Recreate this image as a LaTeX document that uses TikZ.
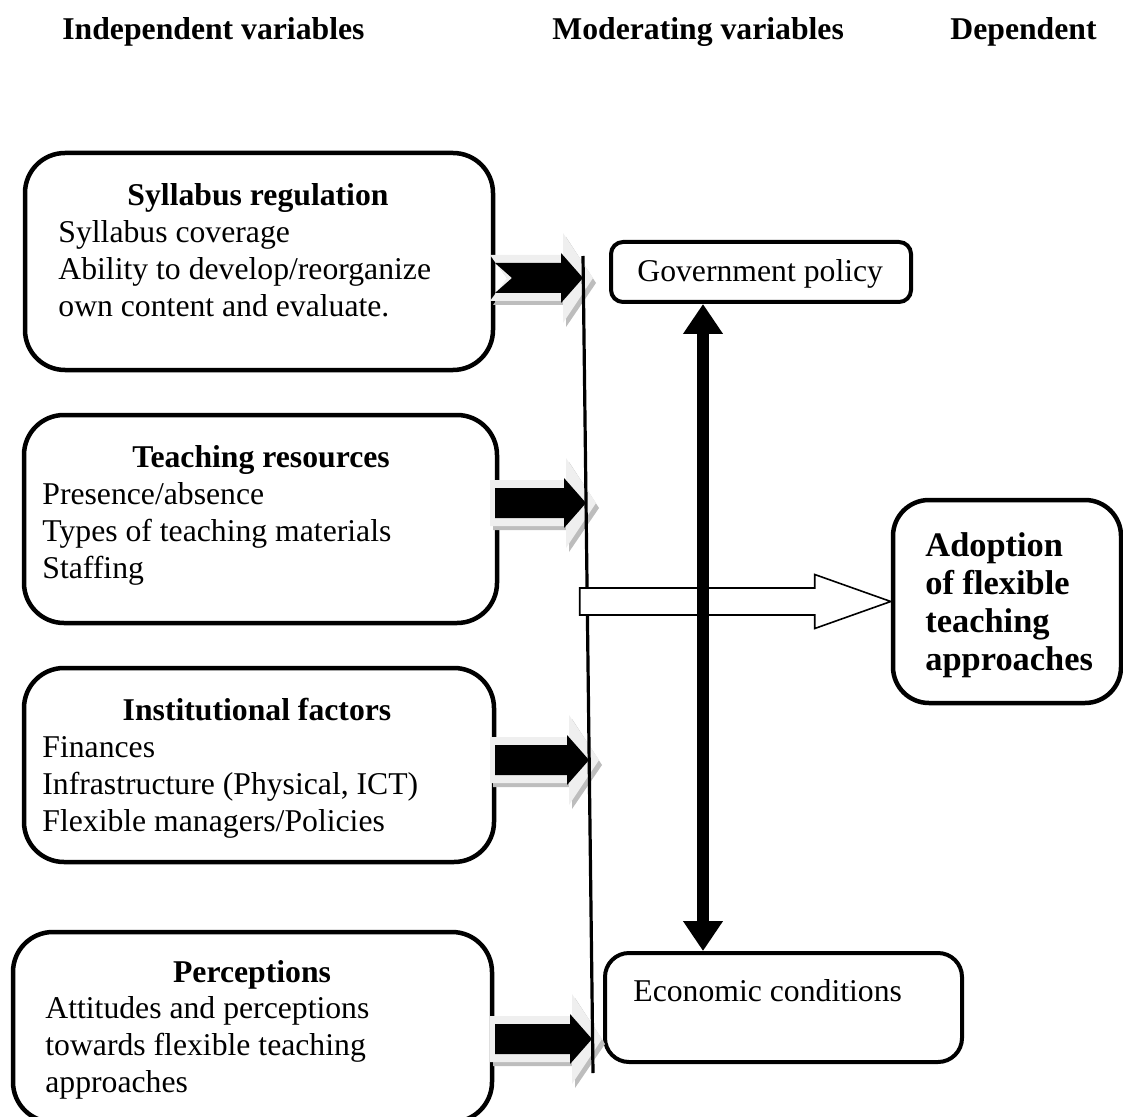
\documentclass[tikz,border=0pt]{standalone}
\usepackage{fontspec}
\setmainfont{Liberation Serif}
\usetikzlibrary{fit,calc,arrows.meta}
\definecolor{lightg}{HTML}{EFEFEF}
\definecolor{shadg}{HTML}{BDBDBD}
\newcommand\barrow[3]{%
  \begin{scope}[shift={(0,#1)}]
    \fill[shadg] (493,-19) -- ({#2-17},-19) -- ({#2-17},-41) -- ({#2+13},5) -- ({#2-17},49) -- ({#2-17},27) -- (493,27) -- ({493+#3},4) -- cycle;
    \fill[lightg] (490,-23) -- ({#2-20},-23) -- ({#2-20},-45) -- ({#2+10},0) -- ({#2-20},45) -- ({#2-20},23) -- (490,23) -- ({490+#3},0) -- cycle;
    \fill[black] (495,-15) -- ({#2-22},-15) -- ({#2-22},-25) -- (#2,0) -- ({#2-22},25) -- ({#2-22},15) -- (495,15) -- ({495+#3},0) -- cycle;
  \end{scope}}
\begin{document}
\begin{tikzpicture}[x=0.5pt,y=-0.5pt,
  txt/.style={font=\fontsize{15.85}{18.5}\selectfont, inner sep=0pt, anchor=base west},
  ttl/.style={font=\fontsize{15.85}{18.5}\selectfont\bfseries, inner sep=0pt},
  btxt/.style={font=\fontsize{17.2}{19}\selectfont\bfseries, inner sep=0pt, anchor=base west},
  ibox/.style={draw, line width=2.25pt, rounded corners=20pt, inner sep=0pt},
  mbox/.style={draw, line width=2pt, inner sep=0pt}]
\useasboundingbox (0,0) rectangle (1123,1117);
% headers
\node[ttl, anchor=base west] (h1) at (62,40) {Independent variables};
\node[ttl, anchor=base west] (h2) at (552,40) {Moderating variables};
\node[ttl, anchor=base west] (h3) at (950,40) {Dependent};
% independent boxes
\node[ibox, fit={(25,153) (493,370)}] (b1) {};
\node[ttl, anchor=base] (t1) at (258,206) {Syllabus regulation};
\node[txt] (l11) at (58,243) {Syllabus coverage};
\node[txt] (l12) at (58,280) {Ability to develop/reorganize};
\node[txt] (l13) at (58,317) {own content and evaluate.};

\node[ibox, fit={(24,415) (497,623)}] (b2) {};
\node[ttl, anchor=base] (t2) at (261,467) {Teaching resources};
\node[txt] (l21) at (42,504) {Presence/absence};
\node[txt] (l22) at (42,541) {Types of teaching materials};
\node[txt] (l23) at (42,578) {Staffing};

\node[ibox, fit={(24,668) (494,862)}] (b3) {};
\node[ttl, anchor=base] (t3) at (257,720) {Institutional factors};
\node[txt] (l31) at (42,757) {Finances};
\node[txt] (l32) at (42,794) {Infrastructure (Physical, ICT)};
\node[txt] (l33) at (42,831) {Flexible managers/Policies};

\node[ibox, fit={(13,932) (492,1122)}] (b4) {};
\node[ttl, anchor=base] (t4) at (252,982) {Perceptions};
\node[txt] (l41) at (45,1018) {Attitudes and perceptions};
\node[txt] (l42) at (45,1055) {towards flexible teaching};
\node[txt] (l43) at (45,1092) {approaches};
% moderating boxes
\node[mbox, rounded corners=6pt, fit={(611,242) (911,302)}] (gov) {};
\node[txt] (govt) at (637,282) {Government policy};
\node[mbox, rounded corners=12pt, fit={(605,953) (962,1062)}] (econ) {};
\node[txt] (econt) at (633,1001) {Economic conditions};
% dependent box
\node[ibox, rounded corners=18pt, fit={(893,500) (1121,703)}] (adopt) {};
\node[btxt] (a1) at (925,556) {Adoption};
\node[btxt] (a2) at (925,594) {of flexible};
\node[btxt] (a3) at (925,632) {teaching};
\node[btxt] (a4) at (925,670) {approaches};
% block arrows
\barrow{278}{583}{17}
\barrow{503}{586}{0}
\barrow{760}{589}{0}
\barrow{1039}{592}{0}
% vertical line
\coordinate (vtop) at (583,256);
\coordinate (vbot) at (593,1073);
\draw[line width=1.6pt] (vtop) -- (vbot);
% hollow arrow
\draw[line width=0.8pt, fill=white, line join=miter]
  ($(adopt.west)+(-311,-13.5)$) -- ($(adopt.west)+(-76,-13.5)$) -- ($(adopt.west)+(-76,-27)$)
  -- (adopt.west) -- ($(adopt.west)+(-76,27)$) -- ($(adopt.west)+(-76,13.5)$)
  -- ($(adopt.west)+(-311,13.5)$) -- cycle;
% double arrow
\coordinate (dx) at (703,0);
\draw[line width=6pt, {Triangle[length=15pt,width=19pt]}-{Triangle[length=15pt,width=19pt]}]
  (gov.south -| dx) -- (econ.north -| dx);
\end{tikzpicture}
\end{document}
